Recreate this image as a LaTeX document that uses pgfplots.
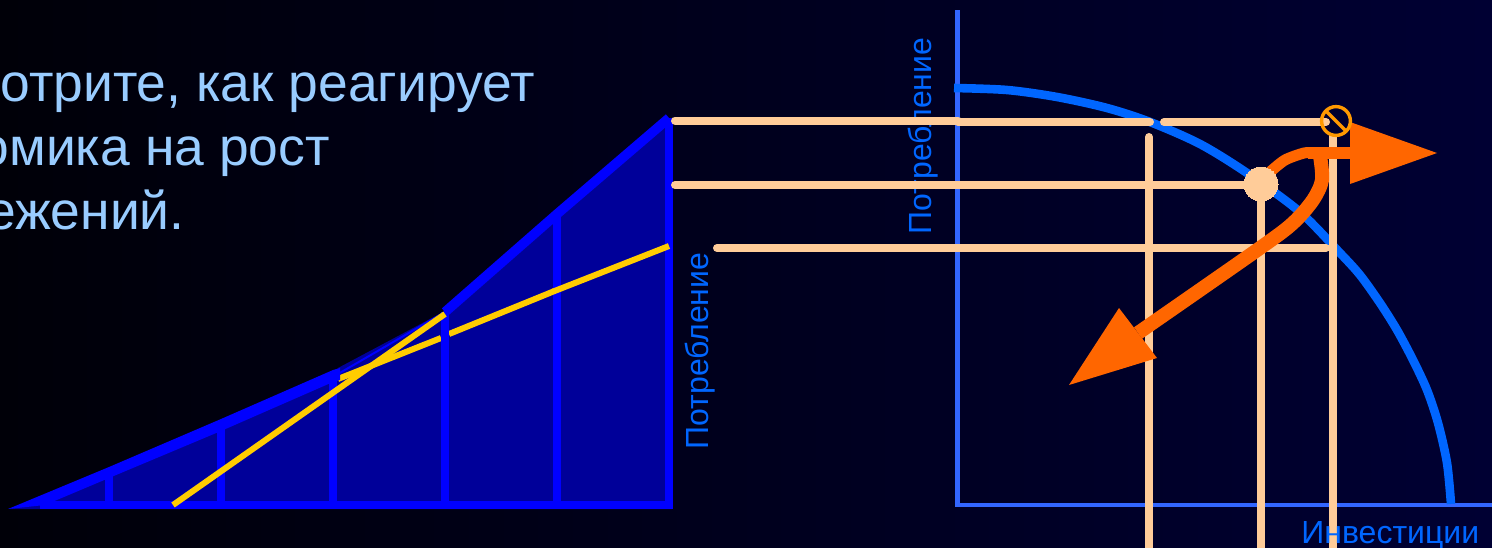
\documentclass[border=0pt]{standalone}
\usepackage{fontspec}
\setmainfont{Liberation Sans}
\usepackage{pgfplots}
\pgfplotsset{compat=1.18}
\definecolor{deep}{HTML}{000008}
\definecolor{navy}{HTML}{000033}
\definecolor{pure}{HTML}{0000FF}
\definecolor{fillb}{HTML}{000099}
\definecolor{gold}{HTML}{FFCC00}
\definecolor{axisb}{HTML}{3366FF}
\definecolor{curveb}{HTML}{0066FF}
\definecolor{peach}{HTML}{FFCC99}
\definecolor{orng}{HTML}{FF6600}
\definecolor{ring}{HTML}{FF9900}
\definecolor{txt}{HTML}{99CCFF}
\begin{document}
\begin{tikzpicture}
\clip (0,0) rectangle (746pt,273.5pt);
\begin{axis}[width=746pt, height=273.5pt, scale only axis,
  xmin=0, xmax=1492, ymin=0, ymax=547, y dir=reverse,
  ticks=none, axis line style={draw=none},
  axis background/.style={left color=deep, right color=navy}]
% left panel: area
\addplot[fill=fillb, draw=none] coordinates {(10,509)(109,470)(221,423)(333,375)(338,368)(445,311)(557,214)(669,118)(672,509)} -- cycle;
% this part of the yellow line goes under the vertical at 445
\addplot[gold, line width=3pt] coordinates {(338,379)(441,338)};
\addplot[gold, line width=3pt] coordinates {(449,334)(557,290)};
\addplot[pure, line width=4.2pt] coordinates {(109,470)(109,505)};
\addplot[pure, line width=4.2pt] coordinates {(221,423)(221,505)};
\addplot[pure, line width=4.2pt] coordinates {(333,375)(333,505)};
\addplot[pure, line width=4.2pt] coordinates {(445,312)(445,505)};
\addplot[pure, line width=4.2pt] coordinates {(557,214)(557,505)};
\addplot[pure, line width=4.2pt] coordinates {(669,118)(669,505)};
\addplot[pure, line width=4.2pt] coordinates {(40,505)(673,505)};
\addplot[gold, line width=3pt] coordinates {(552,292)(669,246)};
\addplot[fill=pure, draw=none] coordinates {(8,509)(109,467)(221,419)(333,370)(340,368)(340,380)(333,382)(221,431)(109,478)(45,505)} -- cycle;
\addplot[pure, line width=1pt] coordinates {(338,374)(445,312)};
\addplot[pure, line width=4.8pt] coordinates {(445,312)(557,214)(669,118)};
\addplot[gold, line width=3pt] coordinates {(173,505)(445,314)};
% labels under the guide lines
\node[rotate=90, inner sep=0pt, text=curveb, font=\fontsize{16pt}{16pt}\selectfont] at (axis cs:923,136) {Потребление};
\node[rotate=90, inner sep=0pt, text=curveb, font=\fontsize{16pt}{16pt}\selectfont] at (axis cs:700,351) {Потребление};
% right panel: axes and frontier
\addplot[axisb, line width=2.5pt] coordinates {(957,10)(957,505)};
\addplot[axisb, line width=2.4pt] coordinates {(955,505)(1492,505)};
\addplot[curveb, line width=4.3pt, smooth] coordinates {(954,88)(1007,90)(1057,97)(1107,108)(1150,122)(1200,144)(1247,173)(1300,212)(1340,253)(1360,275)(1380,303)(1397,330)(1413,360)(1427,390)(1438,423)(1447,463)(1451,504)};
% guide lines
\addplot[peach, line width=4pt, line cap=round] coordinates {(675,120.5)(958,120.5)};
\addplot[peach, line width=4pt, line cap=round] coordinates {(958,122)(1150,122)};
\addplot[peach, line width=4pt, line cap=round] coordinates {(1164,122)(1326,122)};
\addplot[peach, line width=4pt, line cap=round] coordinates {(675,185)(1261,185)};
\addplot[peach, line width=4pt, line cap=round] coordinates {(717,248)(1326,248)};
\addplot[peach, line width=4pt, line cap=round] coordinates {(1149,137)(1149,555)};
\addplot[peach, line width=4pt] coordinates {(1261,185)(1261,555)};
\addplot[peach, line width=4pt] coordinates {(1333,135)(1333,555)};
% arrows
\addplot[orng, line width=5.5pt, smooth] coordinates {(1270,172)(1285,160)(1304,153)(1312,153)};
\addplot[orng, line width=7pt, line join=round, smooth] coordinates {(1320,156)(1322,180)(1313,200)(1293,223)(1260,248)(1138,333)};
\addplot[orng, line width=6.3pt] coordinates {(1308,153)(1352,153)};
\addplot[fill=orng, draw=none] coordinates {(1350,122)(1437,153)(1350,184)} -- cycle;
\addplot[fill=orng, draw=none] coordinates {(1119,308)(1157,358)(1069,385)} -- cycle;
% markers
\addplot[only marks, peach, mark=*, mark size=8.5pt, mark options={fill=peach, draw=peach, line width=0pt}] coordinates {(1261,184)};
\addplot[only marks, ring, mark=o, mark size=7.2pt, mark options={draw=ring, line width=1.7pt}] coordinates {(1336,121)};
\addplot[ring, line width=1.7pt] coordinates {(1326,111)(1346,131)};
% text
\node[anchor=base east, inner sep=0pt, text=txt, font=\fontsize{26.7pt}{26.7pt}\selectfont] at (axis cs:535,101) {Посмотрите, как реагирует};
\node[anchor=base east, inner sep=0pt, text=txt, font=\fontsize{26.7pt}{26.7pt}\selectfont] at (axis cs:330,165) {экономика на рост};
\node[anchor=base east, inner sep=0pt, text=txt, font=\fontsize{26.7pt}{26.7pt}\selectfont] at (axis cs:185,229) {сбережений.};
\node[anchor=base west, inner sep=0pt, text=curveb, font=\fontsize{16pt}{16pt}\selectfont] at (axis cs:1301,543) {Инвестиции};
\end{axis}
\end{tikzpicture}
\end{document}
